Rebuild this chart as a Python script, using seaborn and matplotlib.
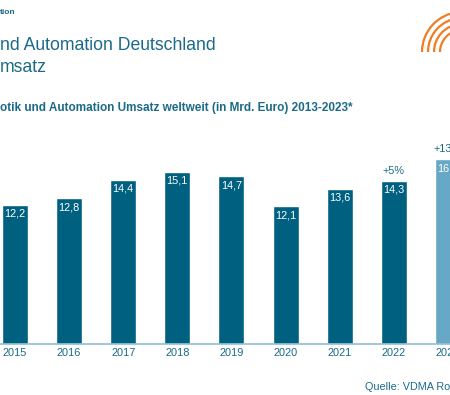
import matplotlib
matplotlib.use("Agg")
import matplotlib.pyplot as plt
from matplotlib.patches import Arc
import seaborn as sns
import pandas as pd

years = ["2015", "2016", "2017", "2018", "2019", "2020", "2021", "2022", "2023"]
values = [12.2, 12.8, 14.4, 15.1, 14.7, 12.1, 13.6, 14.3, 16.2]
value_labels = ["12,2", "12,8", "14,4", "15,1", "14,7", "12,1", "13,6", "14,3", "16,2"]
growth_labels = {"2022": "+5%", "2023": "+13%"}

DARK = "#00607f"
LIGHT = "#67a8c6"
TEXT = "#1b6a88"

sns.set_theme(style="white")
plt.rcParams['font.family'] = ['Liberation Sans', 'DejaVu Sans']

df = pd.DataFrame({"year": years, "value": values})
palette = {y: (LIGHT if y == "2023" else DARK) for y in years}

fig = plt.figure(figsize=(4.5, 3.95), dpi=100)
ax = fig.add_axes([0.0, (395 - 344) / 395, 1.0, 214 / 395])
sns.barplot(data=df, x="year", y="value", hue="year", palette=palette,
            width=0.48, legend=False, ax=ax, saturation=1)
ax.set_xlim(-0.277, 8.04)
ax.set_ylim(0, 214 / 11.4)
for s in ["top", "right", "left"]:
    ax.spines[s].set_visible(False)
ax.spines["bottom"].set_color("#8ec0d2")
ax.spines["bottom"].set_linewidth(1.2)
ax.set_yticks([])
ax.set_xlabel("")
ax.set_ylabel("")
ax.tick_params(axis="x", length=0, pad=3, labelsize=7.9, labelcolor=TEXT)

for i, (v, lab) in enumerate(zip(values, value_labels)):
    ax.text(i, v - 0.35, lab, ha="center", va="top", color="white", fontsize=7.8)
for i, y in enumerate(years):
    if y in growth_labels:
        ax.text(i, values[i] + 0.45, growth_labels[y], ha="center", va="bottom",
                color=TEXT, fontsize=7.8)

fig.text(0.0, 1 - 12 / 395, "tion", ha="left", va="center", color=TEXT,
         fontsize=6, fontweight="bold")
fig.text(0.0, 1 - 45 / 395, "nd Automation Deutschland", ha="left", va="center",
         color=TEXT, fontsize=12.7)
fig.text(0.0, 1 - 68 / 395, "msatz", ha="left", va="center",
         color=TEXT, fontsize=12.7)
fig.text(0.0, 1 - 108 / 395, "otik und Automation Umsatz weltweit (in Mrd. Euro) 2013-2023*",
         ha="left", va="center", color=TEXT, fontsize=8.5, fontweight="bold")
fig.text(365 / 450, 1 - 387 / 395, "Quelle: VDMA Robotik + Automation", ha="left",
         va="center", color=TEXT, fontsize=7.8)

# logo arcs (top right)
lax = fig.add_axes([0, 0, 1, 1], facecolor="none")
lax.set_xlim(0, 450)
lax.set_ylim(395, 0)
lax.axis("off")
for r in [22, 28, 34, 40]:
    lax.add_patch(Arc((462, 52), 2 * r, 2 * r, theta1=180, theta2=265,
                      color="#ef7d22", lw=1.6))

fig.savefig("out.png", dpi=100)
